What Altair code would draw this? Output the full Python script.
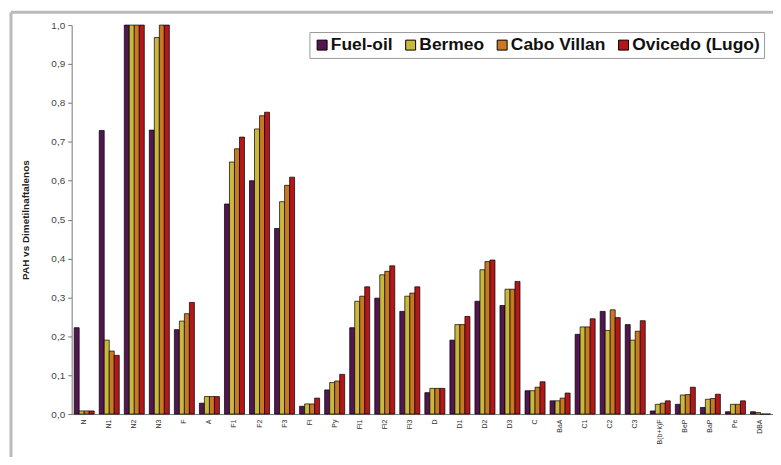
import altair as alt
import pandas as pd

categories = ['N', 'N1', 'N2', 'N3', 'F', 'A', 'F1', 'F2', 'F3', 'Fl', 'Py', 'Fl1', 'Fl2', 'Fl3',
              'D', 'D1', 'D2', 'D3', 'C', 'BaA', 'C1', 'C2', 'C3', 'B(b+k)F', 'BeP', 'BaP', 'Pe', 'DBA']
series = ['Fuel-oil', 'Bermeo', 'Cabo Villan', 'Ovicedo (Lugo)']
fuel_oil = [0.222, 0.729, 1.0, 0.73, 0.217, 0.028, 0.54, 0.60, 0.477, 0.02, 0.062, 0.222, 0.298, 0.264,
            0.055, 0.19, 0.29, 0.279, 0.06, 0.034, 0.205, 0.264, 0.23, 0.008, 0.025, 0.017, 0.006, 0.006]
bermeo = [0.008, 0.19, 1.0, 0.968, 0.239, 0.045, 0.648, 0.733, 0.546, 0.026, 0.081, 0.29, 0.358, 0.303,
          0.066, 0.23, 0.371, 0.321, 0.06, 0.034, 0.224, 0.215, 0.19, 0.025, 0.049, 0.038, 0.025, 0.004]
cabo_villan = [0.008, 0.162, 1.0, 1.0, 0.258, 0.045, 0.682, 0.767, 0.588, 0.026, 0.085, 0.303, 0.367, 0.311,
               0.066, 0.23, 0.392, 0.321, 0.069, 0.041, 0.224, 0.268, 0.213, 0.028, 0.05, 0.04, 0.025, 0.0]
ovicedo = [0.008, 0.151, 1.0, 1.0, 0.287, 0.045, 0.712, 0.776, 0.609, 0.041, 0.102, 0.327, 0.381, 0.327,
           0.066, 0.251, 0.396, 0.341, 0.083, 0.054, 0.245, 0.248, 0.24, 0.034, 0.069, 0.051, 0.034, 0.0]
colors = ['#521650', '#c9b83a', '#c77a22', '#b3171a']
y_ticks = [0.0, 0.1, 0.2, 0.3, 0.4, 0.5, 0.6, 0.7, 0.8, 0.9, 1.0]

rows = []
for s, vals in zip(series, [fuel_oil, bermeo, cabo_villan, ovicedo]):
    for c, v in zip(categories, vals):
        rows.append({'cat': c, 'serie': s, 'valor': v})
df = pd.DataFrame(rows)

FONT = 'Liberation Sans'

bars = alt.Chart(df).mark_bar(stroke='black', strokeWidth=0.7).encode(
    x=alt.X('cat:N', sort=categories,
            scale=alt.Scale(paddingInner=0.2, paddingOuter=0.1),
            axis=alt.Axis(title=None, labelAngle=-90, labelFontSize=7, labelColor='#333',
                          labelFont=FONT, ticks=False, domainColor='#777', labelPadding=5,
                          labelAlign='right', labelBaseline='middle')),
    xOffset=alt.XOffset('serie:N', sort=series, scale=alt.Scale(paddingInner=0, paddingOuter=0)),
    y=alt.Y('valor:Q', scale=alt.Scale(domain=[0, 1], nice=False),
            axis=alt.Axis(title='PAH vs Dimetilnaftalenos', values=y_ticks,
                          labelExpr="replace(format(datum.value, '.1f'), '.', ',')",
                          labelFontSize=10, labelColor='#444', labelFont=FONT,
                          tickSize=4, tickColor='#777', domainColor='#777', labelPadding=3,
                          titleFont=FONT, titleFontSize=10, titleFontWeight='bold',
                          titleColor='#222', titlePadding=20, grid=False)),
    color=alt.Color('serie:N', sort=series,
                    scale=alt.Scale(domain=series, range=colors),
                    legend=alt.Legend(title=None, orient='none', legendX=239, legendY=7,
                                      direction='horizontal', columns=4,
                                      symbolType='square', symbolSize=100,
                                      symbolStrokeColor='black', symbolStrokeWidth=1,
                                      labelFont=FONT, labelFontSize=17.5, labelFontWeight='bold',
                                      labelColor='#111', labelOffset=0, columnPadding=9,
                                      fillColor='white', strokeColor='#999',
                                      padding=4)),
)

frame_top = alt.Chart(alt.Data(values=[{}])).mark_rule(stroke='#bbbbbb', strokeWidth=3).encode(
    x=alt.value(-61), x2=alt.value(900), y=alt.value(-13)
)
frame_left = alt.Chart(alt.Data(values=[{}])).mark_rule(stroke='#bbbbbb', strokeWidth=3).encode(
    x=alt.value(-61), y=alt.value(-13), y2=alt.value(600)
)

chart = alt.layer(frame_top, frame_left, bars).properties(
    width=705, height=391,
    autosize=alt.AutoSizeParams(type='none'),
    padding={'left': 64, 'top': 16, 'right': 0, 'bottom': 42},
).configure_view(stroke=None)

chart.save('out.html', embed_options={'renderer': 'svg', 'actions': False})
